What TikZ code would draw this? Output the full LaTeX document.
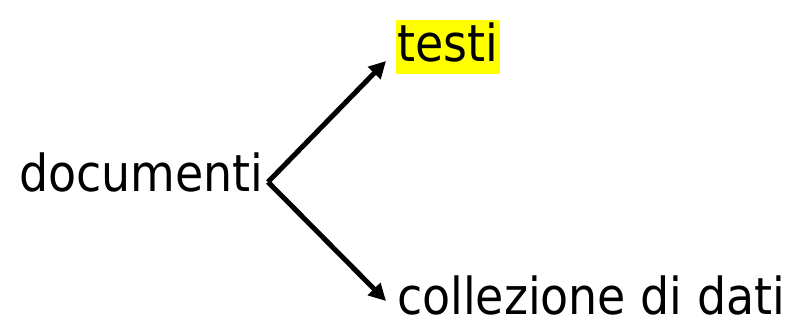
\documentclass[tikz,border=0pt]{standalone}
\usepackage{fontspec}
\setmainfont{DejaVu Sans Condensed}
\usetikzlibrary{arrows.meta}
\definecolor{hl}{RGB}{255,255,0}
\tikzset{
  lbl/.style={inner sep=0pt, outer sep=0pt, font=\fontsize{51}{60}\selectfont},
  arr/.style={line width=5pt, -{Triangle[length=17pt,width=17pt]}},
}
\begin{document}
\begin{tikzpicture}[x=1pt,y=1pt]
\useasboundingbox (0,0) rectangle (792,322);
\node[lbl, anchor=base west] (doc) at (19,131) {documenti};
\node[lbl, anchor=base west, fill=hl, text height=42pt, text depth=12pt, inner xsep=1.5pt] (testi) at (396,260) {testi};
\node[lbl, anchor=base west] (coll) at (397,8) {collezione di dati};
\coordinate (v) at (268,140);
\coordinate (tu) at (386,261);
\coordinate (td) at (386,21);
\draw[arr] (v) -- (tu);
\draw[arr] (v) -- (td);
\end{tikzpicture}
\end{document}
